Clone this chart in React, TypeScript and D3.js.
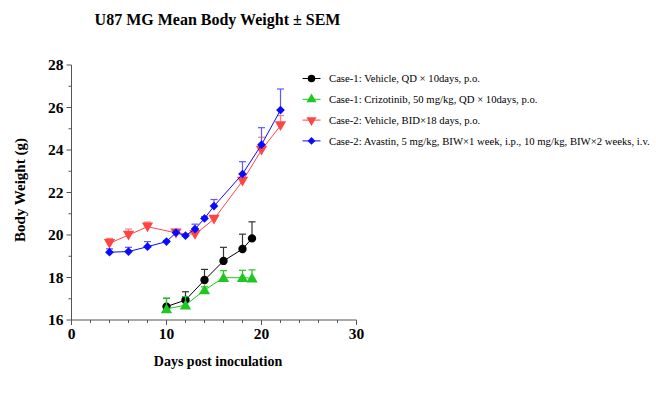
import React from "react";
import * as d3 from "d3";

// days post inoculation per group
const case1Days = [10, 12, 14, 16, 18, 19];
const case2RedDays = [4, 6, 8, 11, 13, 15, 18, 20, 22];
const case2BlueDays = [4, 6, 8, 10, 11, 12, 13, 14, 15, 18, 20, 22];

// mean body weight (g) and SEM
const vehicle1Mean = [16.63, 16.94, 17.88, 18.78, 19.34, 19.84];
const vehicle1Sem = [0.39, 0.39, 0.5, 0.64, 0.7, 0.78];
const crizotinibMean = [16.52, 16.7, 17.41, 17.99, 17.99, 17.97];
const crizotinibSem = [0.5, 0.4, 0.15, 0.33, 0.35, 0.39];
const vehicle2Mean = [19.61, 20.0, 20.39, 20.1, 20.03, 20.75, 22.54, 24.0, 25.15];
const vehicle2Sem = [0.23, 0.28, 0.22, 0.17, 0.1, 0.1, 0.12, 0.6, 0.47];
const avastinMean = [19.19, 19.22, 19.45, 19.69, 20.11, 19.97, 20.28, 20.78, 21.36, 22.87, 24.25, 25.88];
const avastinSem = [0.16, 0.2, 0.24, 0.05, 0.12, 0.05, 0.23, 0.08, 0.31, 0.58, 0.8, 0.99];

const seriesLabels = [
  "Case-1: Vehicle, QD \u00d7 10days, p.o.",
  "Case-1: Crizotinib, 50 mg/kg, QD \u00d7 10days, p.o.",
  "Case-2: Vehicle, BID\u00d718 days, p.o.",
  "Case-2: Avastin, 5 mg/kg, BIW\u00d71 week, i.p., 10 mg/kg, BIW\u00d72 weeks, i.v.",
];

const xTicks = [0, 10, 20, 30];
const yTicks = [16, 18, 20, 22, 24, 26, 28];

type Series = {
  label: string;
  days: number[];
  mean: number[];
  sem: number[];
  color: string;
  errColor: string;
  symbol: d3.SymbolType;
  rotate: number;
  size: number;
};

const series: Series[] = [
  { label: seriesLabels[0], days: case1Days, mean: vehicle1Mean, sem: vehicle1Sem, color: "#000000", errColor: "#333333", symbol: d3.symbolCircle, rotate: 0, size: 55 },
  { label: seriesLabels[1], days: case1Days, mean: crizotinibMean, sem: crizotinibSem, color: "#1ec81e", errColor: "#1ec81e", symbol: d3.symbolTriangle, rotate: 0, size: 55 },
  { label: seriesLabels[2], days: case2RedDays, mean: vehicle2Mean, sem: vehicle2Sem, color: "#ff4444", errColor: "#ff7a7a", symbol: d3.symbolTriangle, rotate: 180, size: 55 },
  { label: seriesLabels[3], days: case2BlueDays, mean: avastinMean, sem: avastinSem, color: "#0a0aff", errColor: "#5a5aff", symbol: d3.symbolSquare, rotate: 45, size: 38 },
];

const W = 656;
const H = 400;
const serif = "Liberation Serif, Times New Roman, serif";

export default function App() {
  const x = d3.scaleLinear().domain([0, 30]).range([71.5, 356.5]);
  const y = d3.scaleLinear().domain([16, 28]).range([320, 65]);
  const line = d3.line<[number, number]>().x((d) => x(d[0])).y((d) => y(d[1]));
  const axisColor = "#555";

  const minorX = d3.range(0, 31, 2);
  const minorY = d3.range(16, 28.01, 1);

  return (
    <svg width={W} height={H} style={{ position: "absolute", left: 0, top: 0, background: "#fff", fontFamily: serif }}>
      <text x={217.5} y={25} textAnchor="middle" fontSize={16} fontWeight="bold">
        U87 MG Mean Body Weight ± SEM
      </text>

      {/* axes */}
      <line x1={x(0)} x2={x(30)} y1={y(16)} y2={y(16)} stroke={axisColor} strokeWidth={1} />
      <line x1={x(0)} x2={x(0)} y1={y(16)} y2={y(28)} stroke={axisColor} strokeWidth={1} />
      {minorX.map((d) => (
        <line key={"mx" + d} x1={x(d)} x2={x(d)} y1={y(16)} y2={y(16) + (d % 10 === 0 ? 5 : 3)} stroke={axisColor} />
      ))}
      {minorY.map((v) => (
        <line key={"my" + v} x1={x(0) - (v % 2 === 0 ? 5 : 3)} x2={x(0)} y1={y(v)} y2={y(v)} stroke={axisColor} />
      ))}
      {xTicks.map((d) => (
        <text key={"xt" + d} x={x(d)} y={y(16) + 19} textAnchor="middle" fontSize={15.5} fontWeight="bold">
          {d}
        </text>
      ))}
      {yTicks.map((v) => (
        <text key={"yt" + v} x={x(0) - 8} y={y(v) + 5} textAnchor="end" fontSize={15.5} fontWeight="bold">
          {v}
        </text>
      ))}
      <text x={218} y={366} textAnchor="middle" fontSize={14} fontWeight="bold">
        Days post inoculation
      </text>
      <text transform={`translate(25,190) rotate(-90)`} textAnchor="middle" fontSize={15} fontWeight="bold">
        Body Weight (g)
      </text>

      {/* series */}
      {series.map((s, si) => {
        const pts = s.days.map((d, i) => [d, s.mean[i]] as [number, number]);
        const sym = d3.symbol().type(s.symbol).size(s.size)();
        return (
          <g key={"s" + si}>
            {s.days.map((d, i) => (
              <g key={"e" + i} stroke={s.errColor} strokeWidth={1.2}>
                <line x1={x(d)} x2={x(d)} y1={y(s.mean[i])} y2={y(s.mean[i] + s.sem[i])} />
                <line x1={x(d) - 3.5} x2={x(d) + 3.5} y1={y(s.mean[i] + s.sem[i])} y2={y(s.mean[i] + s.sem[i])} />
              </g>
            ))}
            <path d={line(pts) ?? ""} fill="none" stroke={s.color} strokeWidth={1} />
            {pts.map((p, i) => (
              <path
                key={"m" + i}
                d={sym ?? ""}
                fill={s.color}
                transform={`translate(${x(p[0])},${y(p[1]) + (s.symbol === d3.symbolTriangle ? (s.rotate === 180 ? -1 : 1) : 0)}) rotate(${s.rotate})`}
              />
            ))}
          </g>
        );
      })}

      {/* legend */}
      {series.map((s, si) => {
        const ly = 78.5 + si * 20.8;
        const sym = d3.symbol().type(s.symbol).size(s.size * 0.8)();
        return (
          <g key={"l" + si}>
            <line x1={302.5} x2={320.5} y1={ly} y2={ly} stroke={s.color} strokeWidth={1} />
            <path d={sym ?? ""} fill={s.color} transform={`translate(311.5,${ly}) rotate(${s.rotate})`} />
            <text x={329} y={ly + 3.8} fontSize={10.7}>
              {s.label}
            </text>
          </g>
        );
      })}
    </svg>
  );
}
